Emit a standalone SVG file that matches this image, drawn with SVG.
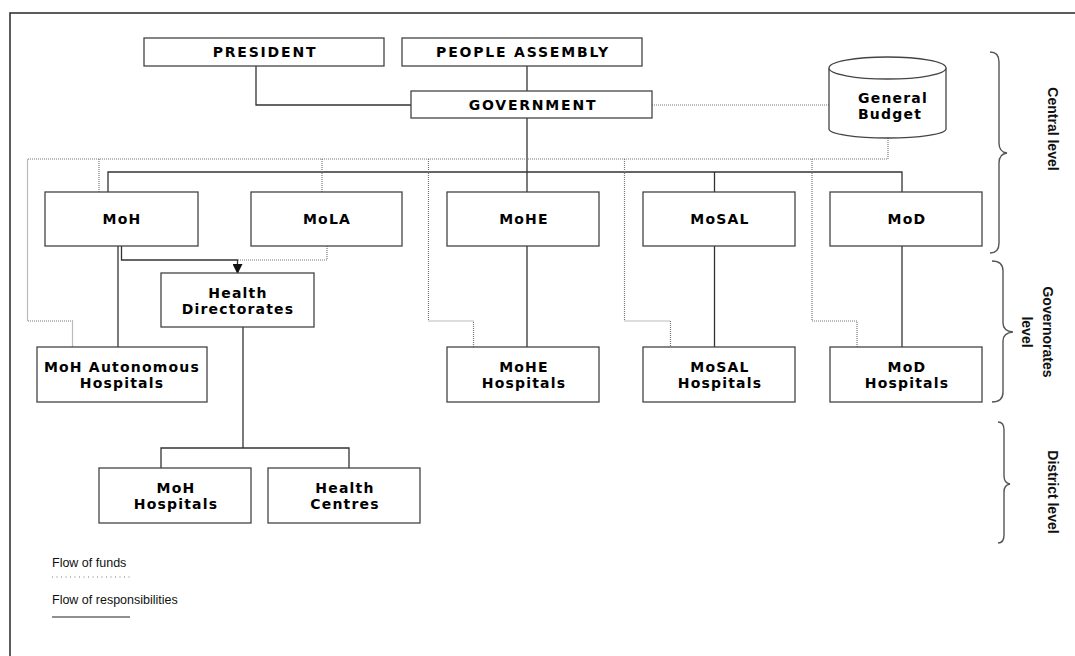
<svg xmlns="http://www.w3.org/2000/svg" width="1075" height="656" viewBox="0 0 1075 656">
<style>
.box{fill:#fff;stroke:#444;stroke-width:1.3}
.t{font-family:"DejaVu Sans",Verdana,sans-serif;font-weight:bold;font-size:14px;fill:#000;text-anchor:middle;letter-spacing:1.2px}
.cap{letter-spacing:1.8px}
.solid{fill:none;stroke:#333;stroke-width:1.3}
.dot{fill:none;stroke:#777;stroke-width:1.2;stroke-dasharray:1 1}
.brace{fill:none;stroke:#555;stroke-width:1.4}
.side{font-family:"Liberation Sans",Arial,sans-serif;font-weight:bold;font-size:14px;fill:#111;text-anchor:middle}
.leg{font-family:"Liberation Sans",Arial,sans-serif;font-size:12.5px;fill:#111}
</style>
<defs>
<marker id="arr" markerWidth="10" markerHeight="10" refX="9" refY="5" orient="auto" markerUnits="userSpaceOnUse">
<path d="M0,0 L10,5 L0,10 Z" fill="#111"/>
</marker>
</defs>
<rect x="10" y="13" width="1080" height="660" fill="#fff" stroke="#333" stroke-width="1.6"/>

<g id="connectors">
<path class="solid" d="M256,66 V105 H411"/>
<path class="solid" d="M527,66 V91"/>
<path class="solid" d="M527,118 V192"/>
<path class="solid" d="M108,192 V172 H902 V192"/>
<path class="solid" d="M714.5,172 V192"/>
<path class="solid" d="M118,246 V347"/>
<path class="solid" d="M527,246 V347"/>
<path class="solid" d="M714.5,246 V347"/>
<path class="solid" d="M902,246 V347"/>
<path class="solid" d="M121.5,246 V260 H237.5 V273" marker-end="url(#arr)"/>
<path class="solid" d="M243,327 V448"/>
<path class="solid" d="M161,468 V448 H349 V468"/>
<path class="dot" d="M652,105 H829"/>
<path class="dot" d="M888,138 V159 H27.5 V321 H72.5 V347"/>
<path class="dot" d="M99,159 V192"/>
<path class="dot" d="M322,159 V192"/>
<path class="dot" d="M428.5,159 V321 H473.5 V347"/>
<path class="dot" d="M624.5,159 V321 H670.5 V347"/>
<path class="dot" d="M812,159 V321 H857 V347"/>
<path class="dot" d="M327,246 V260 H238"/>
</g>

<g id="president"><rect class="box" x="144" y="38" width="240" height="28"/><text class="t cap" x="265" y="57">PRESIDENT</text></g>
<g id="people-assembly"><rect class="box" x="402" y="38" width="240" height="28"/><text class="t cap" x="523" y="57">PEOPLE ASSEMBLY</text></g>
<g id="government"><rect class="box" x="411" y="91" width="241" height="27"/><text class="t cap" x="533" y="110">GOVERNMENT</text></g>
<g id="general-budget">
<path class="box" d="M829,68 V129 A58.5,9 0 0 0 946,129 V68"/>
<ellipse class="box" cx="887.5" cy="68" rx="58.5" ry="11"/>
<text class="t" x="893" y="103">General</text>
<text class="t" x="890" y="119">Budget</text>
</g>
<g id="moh"><rect class="box" x="45" y="192" width="153" height="54"/><text class="t" x="122" y="224">MoH</text></g>
<g id="mola"><rect class="box" x="251" y="192" width="151" height="54"/><text class="t" x="327" y="224">MoLA</text></g>
<g id="mohe"><rect class="box" x="447" y="192" width="152" height="54"/><text class="t" x="524" y="224">MoHE</text></g>
<g id="mosal"><rect class="box" x="643" y="192" width="152" height="54"/><text class="t" x="720" y="224">MoSAL</text></g>
<g id="mod"><rect class="box" x="830" y="192" width="152" height="54"/><text class="t" x="907" y="224">MoD</text></g>
<g id="health-directorates"><rect class="box" x="161" y="273" width="153" height="54"/><text class="t" x="238" y="298">Health</text><text class="t" x="238" y="314">Directorates</text></g>
<g id="moh-autonomous"><rect class="box" x="37" y="347" width="170" height="55"/><text class="t" x="122" y="372">MoH Autonomous</text><text class="t" x="122" y="388">Hospitals</text></g>
<g id="mohe-hospitals"><rect class="box" x="447" y="347" width="152" height="55"/><text class="t" x="524" y="372">MoHE</text><text class="t" x="524" y="388">Hospitals</text></g>
<g id="mosal-hospitals"><rect class="box" x="643" y="347" width="152" height="55"/><text class="t" x="720" y="372">MoSAL</text><text class="t" x="720" y="388">Hospitals</text></g>
<g id="mod-hospitals"><rect class="box" x="830" y="347" width="152" height="55"/><text class="t" x="907" y="372">MoD</text><text class="t" x="907" y="388">Hospitals</text></g>
<g id="moh-hospitals"><rect class="box" x="99" y="468" width="152" height="55"/><text class="t" x="176" y="493">MoH</text><text class="t" x="176" y="509">Hospitals</text></g>
<g id="health-centres"><rect class="box" x="268" y="468" width="152" height="55"/><text class="t" x="345" y="493">Health</text><text class="t" x="345" y="509">Centres</text></g>

<g id="levels">
<path class="brace" d="M990,52 Q999,52 999,62 V143 Q999,152 1007,153 Q999,154 999,163 V243 Q999,253 990,253"/>
<text class="side" x="1048" y="129" transform="rotate(90 1048 129)">Central level</text>
<path class="brace" d="M992,261 Q1003,261 1003,271 V323 Q1003,331 1013,332 Q1003,333 1003,341 V392 Q1003,402 992,402"/>
<text class="side" x="1043" y="332" transform="rotate(90 1043 332)">Governorates</text>
<text class="side" x="1022" y="332" transform="rotate(90 1022 332)">level</text>
<path class="brace" d="M998,422 Q1004,422 1004,430 V476 Q1004,483 1010,484 Q1004,485 1004,492 V535 Q1004,543 998,543"/>
<text class="side" x="1048" y="492" transform="rotate(90 1048 492)">District level</text>
</g>

<g id="legend">
<text class="leg" x="52" y="567">Flow of funds</text>
<line x1="52" y1="577" x2="130" y2="577" stroke="#777" stroke-width="1.2" stroke-dasharray="1 3.5"/>
<text class="leg" x="52" y="604">Flow of responsibilities</text>
<line x1="52" y1="617" x2="130" y2="617" stroke="#222" stroke-width="1.2"/>
</g>
</svg>
